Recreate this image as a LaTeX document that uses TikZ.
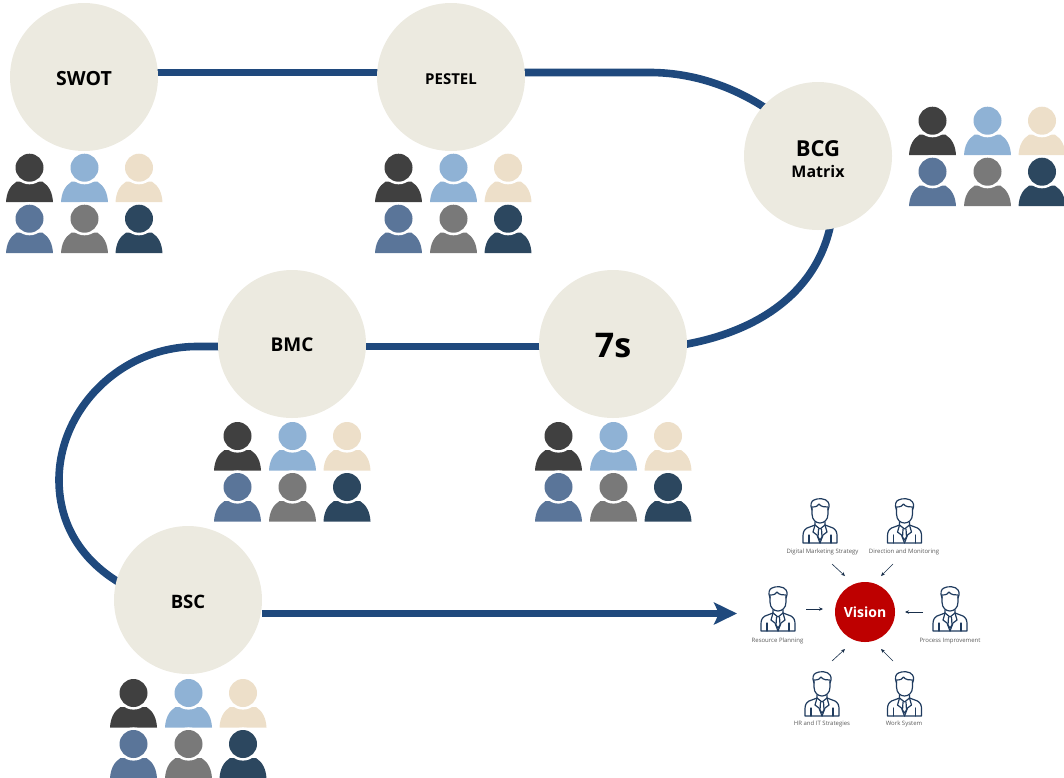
\documentclass[tikz,border=0pt]{standalone}
\usepackage{fontspec}
\setmainfont{Open Sans}
\usetikzlibrary{arrows.meta,backgrounds}
\definecolor{cCircle}{HTML}{ECEAE0}
\definecolor{cLine}{HTML}{1F497D}
\definecolor{cRed}{HTML}{BE0000}
\definecolor{cIcon}{HTML}{1F3B5E}
\definecolor{pA}{HTML}{404040}
\definecolor{pB}{HTML}{8FB2D5}
\definecolor{pC}{HTML}{EDDFC9}
\definecolor{pD}{HTML}{5A7599}
\definecolor{pE}{HTML}{797979}
\definecolor{pF}{HTML}{2C475F}
\newcommand{\lowerby}[2]{\raisebox{-#1}[\height][\depth]{#2}}
\tikzset{
  bigcircle/.style={circle,fill=cCircle,minimum size=148pt,inner sep=0pt,font=\bfseries,align=center},
  route/.style={draw=cLine,line width=7.6pt,shorten >=-3pt,shorten <=-3pt},
  smallarrow/.style={-{Stealth[length=4pt,width=3.5pt]},draw=cIcon!80!black,line width=0.6pt},
  captext/.style={font=\fontsize{6}{7}\selectfont,text=black!65,inner sep=0pt},
  pics/oneperson/.style={code={
    \fill[#1] (-23.5,34.5) .. controls (-23,25) and (-19.5,18) .. (-13,14) -- (13,14)
      .. controls (19.5,18) and (23,25) .. (23.5,34.5) -- cycle;
    \fill[white] (0,0) circle (16.6);
    \fill[#1] (0,0) circle (14);
  }},
  pics/crowd/.style={code={
    \pic at (0,0) {oneperson=pA};
    \pic at (55,0) {oneperson=pB};
    \pic at (109.5,0) {oneperson=pC};
    \pic at (0,51) {oneperson=pD};
    \pic at (55,51) {oneperson=pE};
    \pic at (109.5,51) {oneperson=pF};
  }},
  pics/staff/.style={code={
    \begin{scope}[draw=cIcon,line width=1.2pt,line join=round,line cap=round]
      \draw (-8,11) .. controls (-10,6) and (-9,2) .. (-6,1) .. controls (-3,-1) and (6,-1) .. (8,3)
        .. controls (10,6) and (9,9) .. (8,11);
      \draw (-8,8) .. controls (-4,8) and (-2,7) .. (-1,5) .. controls (1,8) and (5,8) .. (8,8);
      \draw (-8,9) -- (-8,15) .. controls (-8,21) and (-4,24) .. (0,24) .. controls (4,24) and (8,21) .. (8,15) -- (8,9);
      \draw (-5,23) -- (-5,26) -- (-13,29) .. controls (-16,31) and (-17,33) .. (-17,37) -- (-17,44) -- (17,44) -- (17,37)
        .. controls (17,33) and (16,31) .. (13,29) -- (5,26) -- (5,23);
      \draw (-11,36) -- (-11,44) (11,36) -- (11,44);
      \draw (-5,26) -- (-7,33) -- (-3,36) -- (0,44);
      \draw (5,26) -- (7,33) -- (3,36) -- (0,44);
      \draw (-5,26) -- (0,30) -- (5,26);
      \draw (-1.5,30) -- (-2,38) -- (0,41) -- (2,38) -- (1.5,30);
    \end{scope}
  }}
}
\begin{document}
\begin{tikzpicture}[x=1pt,y=-1pt]
\useasboundingbox (0,0) rectangle (1064,777);
\node[bigcircle,font=\bfseries\fontsize{19.5}{24}\selectfont] (swot) at (84,77) {\lowerby{2pt}{SWOT}};
\node[bigcircle,font=\bfseries\fontsize{15}{18}\selectfont] (pestel) at (451,77) {\lowerby{2pt}{PESTEL}};
\node[bigcircle] (bcg) at (818,156) {\lowerby{3pt}{\fontsize{22}{24}\selectfont BCG}\\[8pt]\lowerby{3pt}{\fontsize{16}{21}\selectfont Matrix}};
\node[bigcircle,font=\bfseries\fontsize{34}{38}\selectfont] (seven) at (613,344) {\lowerby{2pt}{7s}};
\node[bigcircle,font=\bfseries\fontsize{19}{22}\selectfont] (bmc) at (292,344) {\lowerby{1pt}{BMC}};
\node[bigcircle,font=\bfseries\fontsize{18.5}{20}\selectfont] (bsc) at (188,600) {\lowerby{2pt}{BSC}};
\node[circle,fill=cRed,minimum size=60pt,inner sep=0pt,text=white,font=\bfseries\fontsize{14}{16}\selectfont] (vision) at (865,612) {Vision};

\coordinate (pbend) at (650,72.5);
\coordinate (bmcbend) at (197,346.5);
\coordinate (leftmost) at (59,480);
\coordinate (tip) at (737,613.5);

\begin{scope}[on background layer]
\draw[route] ([yshift=4.5pt]swot.east) -- ([yshift=4.5pt]pestel.west);
\draw[route] ([yshift=4.5pt]pestel.east) -- (pbend) .. controls (690,72.5) and (730,85) .. (bcg.138);
\draw[route] (seven.east) .. controls (755,332) and (815,295) .. (bcg.-81.5);
\draw[route] ([yshift=-2.5pt]bmc.east) -- ([yshift=-2.5pt]seven.west);
\draw[route] ([yshift=-2.5pt]bmc.west) -- (bmcbend) .. controls (120,346.5) and (59,410) .. (leftmost)
   .. controls (59,525) and (82,560) .. (bsc.165);
\draw[cLine,line width=7.6pt,-{Stealth[length=23pt,width=22pt,inset=5pt]}] ([yshift=-13.5pt]bsc.east) -- (tip);
\end{scope}

\pic at (29.5,167.7) {crowd};
\pic at (398.5,167.7) {crowd};
\pic at (932.5,120.7) {crowd};
\pic at (237.5,436) {crowd};
\pic at (558.5,436) {crowd};
\pic at (133.5,693) {crowd};

\pic at (820,499) {staff};
\pic at (904.5,499) {staff};
\pic at (778,587) {staff};
\pic at (950,587) {staff};
\pic at (822,672) {staff};
\pic at (904.5,672) {staff};

\node[captext] (l1) at (822.5,552) {Digital Marketing Strategy};
\node[captext] (l2) at (904,552) {Direction and Monitoring};
\node[captext] (l3) at (777.5,641) {Resource Planning};
\node[captext] (l4) at (950,641) {Process Improvement};
\node[captext] (l5) at (822,724) {HR and IT Strategies};
\node[captext] (l6) at (904,724) {Work System};

\coordinate (a1) at (832,564); \coordinate (b1) at (845,576);
\coordinate (a2) at (893,564); \coordinate (b2) at (881,576);
\coordinate (a3) at (806,609); \coordinate (b3) at (823,609);
\coordinate (a4) at (923,612); \coordinate (b4) at (905,612);
\coordinate (a5) at (832,661); \coordinate (b5) at (845,649);
\coordinate (a6) at (893,661); \coordinate (b6) at (881,649);
\foreach \i in {1,...,6} \draw[smallarrow] (a\i) -- (b\i);
\end{tikzpicture}
\end{document}
